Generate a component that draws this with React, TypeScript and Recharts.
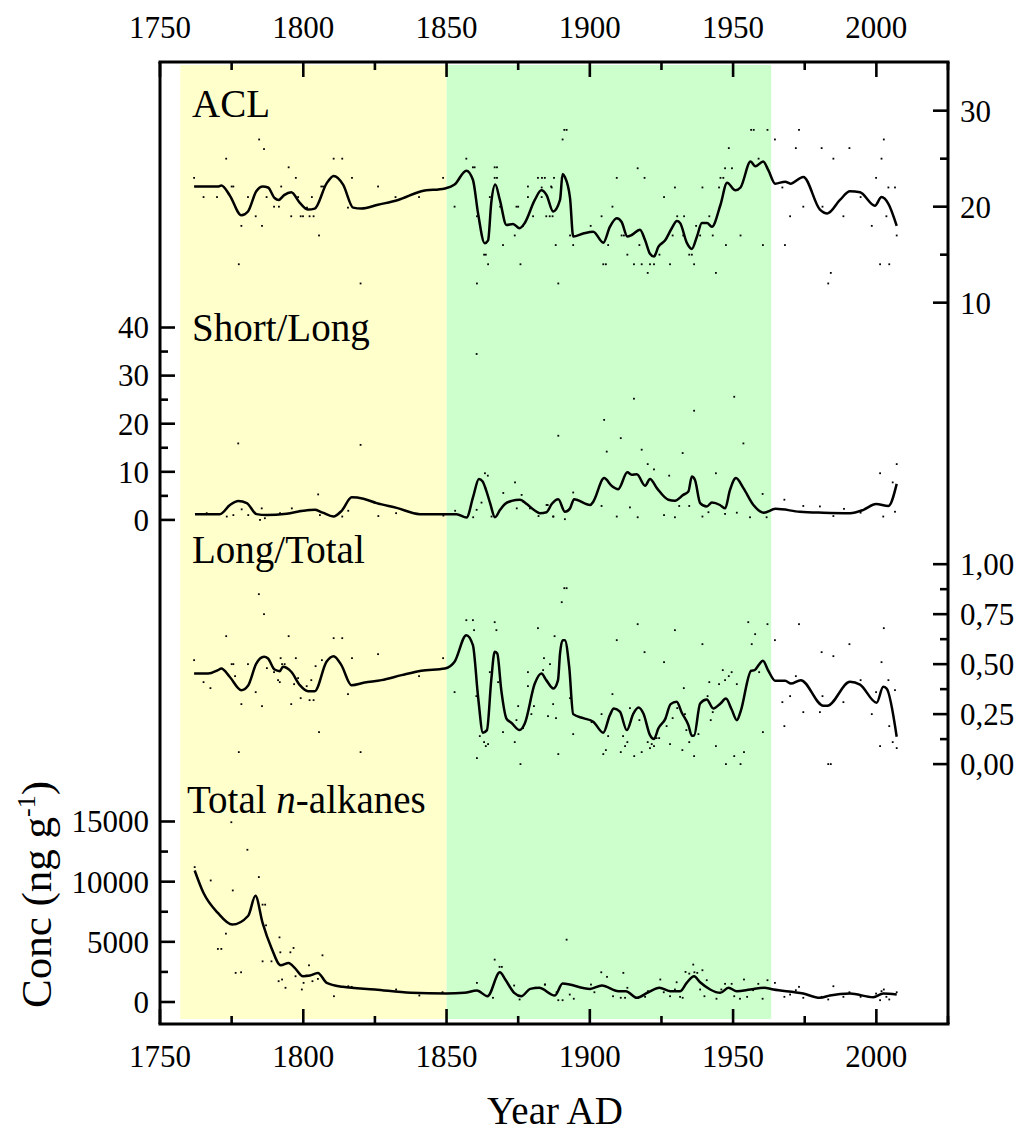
import {
  ComposedChart,
  Line,
  Scatter,
  XAxis,
  YAxis,
  ReferenceArea,
  ReferenceLine,
} from "recharts";

const FONT = '"Liberation Serif", "Times New Roman", Times, serif';

// shaded periods (year AD)
const yellowPeriod = [1757.1, 1850];
const greenPeriod = [1850, 1963.3];
const yearDomain = [1750, 2025];

// axis ticks (minor + major) and the labelled ones
const yearTicks = [1750, 1775, 1800, 1825, 1850, 1875, 1900, 1925, 1950, 1975, 2000, 2025];
const yearLabels = [1750, 1800, 1850, 1900, 1950, 2000];
const aclTicks = [10, 15, 20, 25, 30];
const aclLabels = [10, 20, 30];
const slTicks = [0, 5, 10, 15, 20, 25, 30, 35, 40];
const slLabels = [0, 10, 20, 30, 40];
const ltTicks = [0, 0.125, 0.25, 0.375, 0.5, 0.625, 0.75, 0.875, 1];
const ltLabels = [0, 0.25, 0.5, 0.75, 1];
const totTicks = [0, 2500, 5000, 7500, 10000, 12500, 15000];
const totLabels = [0, 5000, 10000, 15000];

// ACL — smoothed curve [year, value]
const aclLine = [
  [1761.9, 22.1], [1770.2, 22.1], [1771.4, 22.2], [1774.3, 21.2], [1778.4, 19.1], [1780.7, 19.5],
  [1783.6, 21.6], [1785.9, 22.1], [1787.7, 22.0], [1790.0, 20.9], [1791.4, 20.7], [1793.3, 21.2],
  [1795.8, 21.5], [1798.8, 20.4], [1801.7, 19.7], [1804.0, 19.8], [1808.1, 22.4], [1810.6, 23.2],
  [1813.9, 22.3], [1817.4, 19.9], [1820.3, 19.8], [1826.1, 20.2], [1833.1, 20.7], [1841.2, 21.6],
  [1849.4, 21.9], [1852.8, 22.3], [1856.9, 23.75], [1859.2, 22.8], [1861.0, 19.3], [1863.3, 16.2],
  [1864.5, 16.5], [1865.6, 20.4], [1867.0, 22.3], [1868.6, 20.7], [1870.9, 18.1], [1873.2, 18.2],
  [1875.5, 17.75], [1877.3, 18.3], [1880.8, 20.7], [1883.1, 21.7], [1884.9, 21.2], [1887.2, 19.5],
  [1889.6, 20.7], [1890.5, 23.4], [1891.3, 23.1], [1893.1, 20.9], [1894.2, 16.9], [1897.7, 17.2],
  [1901.2, 17.4], [1904.7, 16.25], [1907.0, 17.9], [1909.4, 18.8], [1911.1, 18.4], [1913.1, 16.9],
  [1914.6, 17.05], [1917.5, 17.6], [1919.3, 16.5], [1921.0, 15.1], [1922.4, 14.8], [1923.9, 15.8],
  [1926.3, 16.5], [1928.6, 17.75], [1930.4, 18.5], [1931.5, 18.3], [1933.9, 16.2], [1935.6, 15.6],
  [1937.4, 16.9], [1939.1, 18.3], [1940.9, 18.3], [1942.6, 17.9], [1945.6, 20.2], [1947.9, 22.5],
  [1950.8, 21.7], [1952.6, 22.0], [1956.1, 24.7], [1957.8, 24.2], [1960.5, 24.7], [1962.3, 23.8],
  [1964.7, 22.4], [1968.2, 22.6], [1970.0, 22.4], [1974.5, 23.1], [1980.3, 19.7], [1982.9, 19.3],
  [1987.3, 20.7], [1990.8, 21.6], [1994.3, 21.5], [1999.5, 20.1], [2001.8, 21.0], [2004.2, 20.3],
  [2007.1, 18.0],
];

// ACL — individual samples
const aclDots = [
  [1761.9, 23], [1765.2, 21], [1769.9, 21], [1773.1, 25], [1775.0, 22.1], [1775.6, 22.1], [1777.5, 14],
  [1778.4, 18], [1780.7, 21], [1783.4, 19], [1784.6, 27], [1785.6, 18], [1786.3, 26], [1787.2, 21],
  [1789.8, 20], [1791.5, 20], [1792.3, 22.1], [1794.9, 24.1], [1795.8, 19], [1797.4, 23], [1798.2, 21],
  [1799.1, 19], [1799.9, 19], [1801.3, 19.9], [1802.2, 19], [1803.6, 19], [1803.0, 21], [1805.5, 17],
  [1806.3, 22.1], [1806.9, 22.1], [1810.6, 25], [1813.6, 25], [1815.6, 19.9], [1817.0, 23], [1820.0, 12],
  [1826.1, 22.1], [1832.2, 21], [1840.4, 21], [1848.8, 23], [1852.8, 20], [1856.9, 25], [1859.2, 24.1],
  [1859.8, 24.1], [1860.6, 19], [1860.6, 12], [1863.1, 15], [1863.7, 15], [1864.5, 14], [1865.1, 21],
  [1866.8, 24.1], [1867.6, 24.1], [1866.8, 23], [1867.6, 23], [1868.7, 20], [1869.7, 16], [1873.8, 17],
  [1874.4, 20], [1875.0, 20], [1875.8, 14], [1876.7, 18], [1878.4, 22.1], [1878.4, 21], [1880.2, 19],
  [1881.9, 23], [1883.3, 23], [1884.3, 23], [1884.8, 19], [1886.0, 19], [1886.5, 22.1], [1888.1, 16],
  [1883.2, 22], [1886.7, 22], [1887.5, 23], [1883.2, 21], [1887.0, 19], [1889.0, 12], [1890.5, 27],
  [1891.1, 28], [1891.9, 28], [1890.2, 23], [1893.1, 17], [1894.2, 16], [1900.3, 18], [1904.1, 19],
  [1904.7, 14], [1905.6, 14], [1906.4, 16], [1907.9, 20], [1909.4, 23], [1911.1, 17], [1911.9, 17],
  [1913.1, 15], [1915.4, 14], [1916.7, 24], [1917.3, 16], [1918.1, 14], [1919.1, 23], [1920.2, 13.1],
  [1921.0, 14], [1922.4, 14], [1922.7, 15], [1924.3, 15], [1925.9, 21], [1928.0, 14], [1928.9, 17],
  [1929.7, 22], [1930.5, 19], [1932.9, 19], [1932.6, 17], [1934.7, 15], [1935.6, 15], [1936.4, 14],
  [1937.1, 18], [1938.5, 17], [1939.3, 22], [1941.7, 19], [1942.9, 17], [1944.0, 13.1], [1945.1, 22],
  [1945.6, 23], [1946.6, 23], [1947.2, 24], [1949.6, 24], [1947.5, 16], [1948.5, 26.1], [1952.6, 17],
  [1956.3, 28], [1957.2, 28], [1958.9, 25], [1960.4, 16], [1962.0, 28], [1964.6, 27], [1967.2, 22],
  [1968.1, 16], [1969.9, 19], [1971.9, 26.1], [1973.0, 28], [1974.5, 20], [1980.9, 26.1], [1981.2, 20],
  [1983.2, 12], [1984.1, 13.1], [1985.0, 25], [1988.5, 19], [1990.6, 26.1], [1994.5, 21], [1998.4, 18],
  [1999.9, 23], [2001.3, 14], [2004.5, 14], [2001.8, 25], [2002.6, 27], [2003.5, 19], [2004.2, 22],
  [2006.5, 22], [2007.1, 17],
];

// Short/Long ratio — smoothed curve
const slLine = [
  [1762.2, 1.2], [1770.9, 1.2], [1774.4, 3.1], [1777.3, 3.95], [1780.3, 3.5], [1783.7, 1.2],
  [1787.2, 1.0], [1794.2, 1.3], [1800.0, 1.9], [1804.1, 2.1], [1806.8, 1.5], [1810.5, 0.7],
  [1813.4, 1.9], [1816.9, 4.7], [1821.0, 4.4], [1825.6, 3.5], [1832.6, 2.5], [1840.7, 1.2],
  [1853.5, 1.2], [1857.0, 0.5], [1859.3, 4.85], [1861.3, 8.5], [1862.6, 8.0], [1863.8, 6.2],
  [1865.2, 3.5], [1866.9, 0.55], [1868.7, 2.1], [1870.4, 3.3], [1872.7, 3.95], [1875.6, 4.2],
  [1878.0, 3.3], [1880.9, 1.9], [1882.6, 1.4], [1884.9, 1.6], [1886.7, 3.3], [1889.0, 4.3],
  [1891.3, 1.7], [1893.1, 2.4], [1894.5, 4.3], [1900.1, 3.1], [1901.2, 3.8], [1905.0, 8.7],
  [1907.6, 7.1], [1909.9, 6.4], [1913.1, 9.9], [1914.6, 9.4], [1916.4, 9.5], [1919.3, 7.1],
  [1921.0, 8.5], [1923.4, 6.6], [1927.4, 4.2], [1929.7, 4.0], [1932.6, 5.2], [1934.4, 5.9],
  [1935.6, 9.0], [1936.7, 8.3], [1938.5, 3.5], [1940.8, 2.8], [1942.6, 3.6], [1945.4, 3.1],
  [1947.2, 2.4], [1948.9, 6.2], [1951.0, 8.7], [1953.6, 6.6], [1957.1, 3.1], [1960.7, 1.5],
  [1964.8, 2.3], [1973.3, 1.7], [1981.4, 1.5], [1990.8, 1.4], [1995.5, 2.1], [1999.9, 3.3],
  [2004.2, 2.9], [2007.1, 7.5],
];

const slDots = [
  [1777.3, 15.9], [1820.0, 15.6], [1805.2, 5.3], [1860.5, 34.5], [1873.9, 7.8], [1889.0, 17.5],
  [1863.4, 9.7], [1864.4, 9.2], [1869.8, 5.6], [1876.2, 5.2], [1766.3, 1.4], [1773.3, 0.7],
  [1775.6, 1.0], [1778.5, 2.2], [1780.8, 1.0], [1784.9, 0.0], [1786.6, 0.35], [1785.5, 2.4],
  [1791.9, 1.4], [1796.0, 2.4], [1798.9, 1.9], [1801.8, 2.1], [1805.8, 1.0], [1815.7, 1.9],
  [1813.6, 0.7], [1826.2, 0.8], [1832.4, 1.4], [1848.9, 0.9], [1853.0, 1.9], [1859.3, 0.55],
  [1860.5, 2.1], [1862.2, 3.6], [1865.7, 0.7], [1874.5, 2.4], [1876.8, 3.8], [1879.1, 2.4],
  [1882.1, 0.8], [1885.3, 3.1], [1887.3, 0.7], [1894.2, 5.7], [1905.0, 20.8], [1905.9, 14.2],
  [1910.8, 17.0], [1915.4, 25.2], [1918.1, 14.6], [1920.2, 11.6], [1922.4, 10.5], [1927.7, 9.2],
  [1932.4, 13.9], [1936.4, 22.7], [1944.0, 9.7], [1950.4, 25.6], [1953.6, 15.9], [1960.3, 5.4],
  [1967.9, 4.2], [1974.5, 2.9], [1980.3, 2.8], [1988.7, 2.3], [2001.3, 9.7], [2005.7, 7.8],
  [2007.1, 11.6], [2006.5, 1.7], [2002.4, 0.7], [1884.9, 3.1], [1887.2, 0.7], [1891.3, 0.15],
  [1904.1, 2.9], [1909.4, 0.7], [1914.0, 2.6], [1916.7, 0.55], [1925.9, 1.0], [1929.7, 0.55],
  [1931.2, 2.9], [1934.7, 2.9], [1939.3, 0.7], [1941.4, 1.6], [1947.2, 1.25], [1951.3, 1.5],
  [1955.9, 0.55], [1961.7, 0.55], [1985.0, 0.8], [1994.5, 1.5],
];

// Long/Total ratio — smoothed curve
const ltLine = [
  [1761.9, 0.453], [1766.8, 0.453], [1770.2, 0.47], [1771.4, 0.478], [1774.3, 0.437], [1778.4, 0.37],
  [1780.7, 0.392], [1783.6, 0.503], [1786.3, 0.537], [1787.7, 0.528], [1790.0, 0.473], [1791.8, 0.465],
  [1792.9, 0.487], [1795.8, 0.462], [1798.8, 0.395], [1801.7, 0.365], [1804.0, 0.365], [1808.1, 0.512],
  [1810.6, 0.54], [1813.3, 0.495], [1816.8, 0.395], [1821.4, 0.408], [1827.3, 0.42], [1834.3, 0.445],
  [1841.2, 0.467], [1849.4, 0.478], [1852.8, 0.512], [1856.9, 0.645], [1859.2, 0.595], [1861.0, 0.337],
  [1862.7, 0.157], [1864.1, 0.17], [1865.6, 0.42], [1866.8, 0.562], [1867.7, 0.553], [1869.1, 0.37],
  [1870.9, 0.228], [1872.6, 0.207], [1875.5, 0.17], [1877.3, 0.203], [1880.8, 0.403], [1883.1, 0.453],
  [1884.8, 0.42], [1887.3, 0.378], [1888.9, 0.42], [1889.6, 0.553], [1890.5, 0.62], [1891.3, 0.62],
  [1892.8, 0.487], [1894.2, 0.25], [1897.7, 0.23], [1901.2, 0.212], [1904.7, 0.157], [1907.0, 0.245],
  [1908.4, 0.278], [1910.5, 0.262], [1912.9, 0.17], [1915.2, 0.253], [1917.0, 0.283], [1918.7, 0.253],
  [1921.0, 0.145], [1922.4, 0.125], [1923.9, 0.178], [1926.3, 0.225], [1928.2, 0.3], [1930.3, 0.312],
  [1932.1, 0.257], [1934.4, 0.195], [1935.6, 0.142], [1936.4, 0.143], [1938.5, 0.303], [1940.8, 0.323],
  [1943.1, 0.278], [1945.6, 0.303], [1947.5, 0.328], [1949.5, 0.273], [1951.3, 0.22], [1952.6, 0.262],
  [1956.3, 0.467], [1957.5, 0.47], [1958.9, 0.495], [1960.4, 0.517], [1962.3, 0.467], [1964.7, 0.417],
  [1968.2, 0.417], [1970.2, 0.403], [1973.6, 0.42], [1981.5, 0.292], [1982.9, 0.292], [1990.8, 0.412],
  [1994.3, 0.398], [2000.1, 0.307], [2002.4, 0.387], [2003.6, 0.378], [2007.1, 0.137],
];

const ltDots = [
  [1784.5, 0.85], [1786.3, 0.75], [1773.1, 0.64], [1761.9, 0.52], [1765.2, 0.41], [1767.6, 0.38],
  [1775.0, 0.5], [1775.6, 0.5], [1776.2, 0.44], [1778.4, 0.3], [1777.5, 0.06], [1780.7, 0.5],
  [1783.4, 0.36], [1785.6, 0.29], [1787.3, 0.48], [1789.8, 0.46], [1791.2, 0.42], [1792.1, 0.53],
  [1792.6, 0.5], [1793.5, 0.5], [1791.8, 0.41], [1794.9, 0.64], [1795.8, 0.3], [1796.8, 0.4],
  [1797.4, 0.53], [1798.2, 0.43], [1799.1, 0.33], [1801.2, 0.39], [1802.2, 0.32], [1803.6, 0.32],
  [1802.8, 0.42], [1804.3, 0.49], [1805.5, 0.16], [1806.5, 0.52], [1810.6, 0.63], [1813.6, 0.63],
  [1815.6, 0.35], [1817.0, 0.53], [1820.0, 0.06], [1826.1, 0.55], [1840.4, 0.44], [1848.8, 0.53],
  [1852.8, 0.36], [1856.9, 0.72], [1859.2, 0.72], [1859.6, 0.67], [1860.6, 0.03], [1860.4, 0.34],
  [1861.6, 0.14], [1863.1, 0.11], [1863.7, 0.09], [1864.5, 0.1], [1866.8, 0.71], [1867.4, 0.67],
  [1865.1, 0.46], [1868.0, 0.41], [1869.7, 0.16], [1873.8, 0.11], [1874.4, 0.22], [1875.0, 0.29],
  [1875.8, 0.0], [1876.7, 0.18], [1878.4, 0.46], [1878.4, 0.39], [1879.6, 0.25], [1880.5, 0.29],
  [1881.9, 0.68], [1884.0, 0.53], [1883.7, 0.47], [1885.4, 0.24], [1887.7, 0.64], [1887.2, 0.3],
  [1890.2, 0.81], [1891.1, 0.88], [1891.9, 0.88], [1886.1, 0.5], [1888.2, 0.23], [1889.0, 0.05],
  [1893.1, 0.33], [1894.2, 0.15], [1900.6, 0.21], [1904.1, 0.25], [1904.7, 0.05], [1905.6, 0.07],
  [1906.4, 0.14], [1907.9, 0.35], [1909.4, 0.62], [1910.8, 0.06], [1911.6, 0.14], [1913.1, 0.11],
  [1912.3, 0.09], [1914.0, 0.28], [1915.5, 0.04], [1916.7, 0.7], [1917.3, 0.22], [1918.1, 0.06],
  [1919.1, 0.56], [1920.2, 0.11], [1921.0, 0.08], [1921.6, 0.1], [1922.4, 0.09], [1923.3, 0.13],
  [1924.2, 0.13], [1925.9, 0.51], [1926.8, 0.19], [1928.0, 0.1], [1928.9, 0.23], [1929.7, 0.67],
  [1930.5, 0.28], [1932.3, 0.07], [1932.8, 0.38], [1933.2, 0.25], [1933.7, 0.17], [1934.7, 0.11],
  [1936.4, 0.04], [1937.9, 0.15], [1939.3, 0.6], [1941.1, 0.34], [1941.7, 0.41], [1942.2, 0.22],
  [1942.9, 0.26], [1944.0, 0.09], [1945.1, 0.4], [1946.4, 0.47], [1947.2, 0.42], [1947.5, 0.0],
  [1948.5, 0.44], [1949.5, 0.46], [1950.4, 0.04], [1951.3, 0.4], [1952.6, 0.0], [1953.8, 0.06],
  [1955.3, 0.71], [1956.5, 0.6], [1957.7, 0.65], [1959.1, 0.46], [1960.4, 0.16], [1962.0, 0.7],
  [1964.6, 0.62], [1967.2, 0.31], [1967.9, 0.19], [1969.9, 0.34], [1971.9, 0.44], [1973.0, 0.7],
  [1974.5, 0.26], [1980.3, 0.26], [1980.9, 0.56], [1981.2, 0.34], [1983.2, 0.0], [1984.1, 0.0],
  [1985.0, 0.54], [1988.5, 0.31], [1990.6, 0.6], [1994.5, 0.42], [1998.4, 0.25], [1999.9, 0.36],
  [2001.3, 0.09], [2001.8, 0.51], [2002.6, 0.68], [2004.2, 0.42], [2004.5, 0.19], [2005.7, 0.11],
  [2006.5, 0.37], [2007.1, 0.08],
];

// Total n-alkanes (ng/g) — smoothed curve
const totLine = [
  [1762.1, 10930], [1765.2, 9055], [1770.2, 7400], [1775.2, 6430], [1780.8, 7170], [1783.3, 8830],
  [1785.8, 6570], [1788.9, 4490], [1792.1, 3050], [1794.9, 3250], [1797.0, 2840], [1799.9, 2140],
  [1802.3, 2200], [1805.1, 2420], [1808.2, 1590], [1813.8, 1260], [1825.0, 1040], [1837.5, 760],
  [1849.9, 700], [1856.2, 760], [1860.6, 950], [1864.3, 480], [1868.6, 2470], [1870.5, 1870],
  [1873.6, 760], [1876.1, 480], [1879.2, 1090], [1882.3, 1180], [1887.8, 540], [1890.5, 1530],
  [1900.1, 1090], [1904.2, 1370], [1910.0, 900], [1912.6, 900], [1916.4, 350], [1920.4, 810],
  [1924.3, 1180], [1928.0, 900], [1931.5, 900], [1933.8, 1590], [1936.4, 2140], [1938.5, 1640],
  [1942.0, 1040], [1945.5, 760], [1948.4, 1180], [1951.3, 900], [1956.0, 1040], [1960.8, 1180],
  [1964.1, 1040], [1974.5, 700], [1980.3, 350], [1983.8, 540], [1990.8, 700], [1998.9, 400],
  [2002.4, 700], [2007.1, 620],
];

const totDots = [
  [1762.1, 11210], [1767.7, 10100], [1774.9, 14940], [1775.4, 9270], [1773.0, 5680], [1770.2, 4410],
  [1771.4, 4410], [1776.4, 2420], [1778.3, 2470], [1780.5, 12650], [1784.5, 10380], [1785.8, 8090],
  [1786.7, 8090], [1787.0, 6370], [1788.9, 3380], [1785.8, 3380], [1791.7, 5370], [1792.0, 4130],
  [1795.5, 4130], [1796.6, 4490], [1791.4, 1730], [1792.6, 1870], [1793.8, 1180], [1797.3, 2140],
  [1799.5, 1040], [1800.1, 1590], [1802.0, 3050], [1801.1, 2200], [1803.2, 1730], [1805.1, 1920],
  [1806.7, 3880], [1810.7, 480], [1815.7, 1310], [1816.9, 1260], [1832.4, 1040], [1840.5, 540],
  [1848.6, 810], [1860.6, 1590], [1866.8, 3520], [1868.5, 2920], [1869.3, 2920], [1866.2, 350],
  [1873.6, 1370], [1875.5, 210], [1881.2, 1180], [1884.3, 1450], [1891.9, 5180], [1884.4, 1450],
  [1888.4, 810], [1889.0, 150], [1890.5, 150], [1893.0, 620], [1894.4, 270], [1900.4, 1450],
  [1901.6, 810], [1904.0, 2470], [1906.0, 2090], [1908.1, 480], [1910.8, 350], [1912.3, 350],
  [1911.7, 2420], [1913.1, 1180], [1917.3, 430], [1919.3, 430], [1920.3, 900], [1924.6, 1870],
  [1925.8, 810], [1928.0, 480], [1929.7, 1040], [1930.3, 1640], [1931.5, 430], [1932.4, 350],
  [1933.4, 2500], [1934.7, 2360], [1936.1, 3110], [1936.5, 2470], [1937.5, 2420], [1939.3, 2640],
  [1938.5, 1040], [1940.8, 1810], [1940.0, 480], [1944.2, 270], [1945.9, 1040], [1947.2, 1510],
  [1949.5, 1510], [1950.4, 480], [1952.4, 270], [1953.8, 1870], [1954.9, 430], [1957.0, 980],
  [1958.8, 1510], [1960.3, 270], [1962.0, 1810], [1964.6, 1590], [1967.9, 430], [1969.9, 620],
  [1971.9, 980], [1973.0, 1260], [1974.5, 350], [1980.9, 430], [1983.2, 210], [1985.0, 1310],
  [1988.5, 430], [1990.6, 810], [1994.5, 430], [1999.9, 700], [2001.3, 150], [2001.8, 900],
  [2002.6, 1040], [2003.5, 430], [2004.5, 210], [2007.1, 810],
];

const toRows = (pairs: number[][]) => pairs.map(([year, v]) => ({ year, v }));

type Side = "left" | "right" | "top" | "bottom";

// inward-pointing ticks: long ones carry a label, short ones are minor.
// `shift` moves a stacked (second) y axis back onto the plot edge.
function axisTick(side: Side, labels: number[], fmt: (v: number) => string = String, shift = 0) {
  return (props: any) => {
    const { payload } = props;
    const x = props.x + shift;
    const y = props.y;
    const v = payload.value as number;
    const major = labels.some((m) => Math.abs(m - v) < 1e-6);
    const len = major ? 15 : 8;
    let line: number[];
    let tx = x;
    let ty = y;
    let anchor: "start" | "middle" | "end" = "middle";
    if (side === "left") {
      line = [x, y, x + len, y];
      tx = x - 11;
      anchor = "end";
    } else if (side === "right") {
      line = [x, y, x - len, y];
      tx = x + 12;
      anchor = "start";
    } else if (side === "top") {
      line = [x, y, x, y + len];
      ty = y - 35;
    } else {
      line = [x, y, x, y - len];
      ty = y + 32;
    }
    return (
      <g>
        <line x1={line[0]} y1={line[1]} x2={line[2]} y2={line[3]} stroke="#000" strokeWidth={2.6} />
        {major && (
          <text x={tx} y={ty} dy="0.35em" textAnchor={anchor} fontSize={31} fontFamily={FONT} fill="#000">
            {fmt(v)}
          </text>
        )}
      </g>
    );
  };
}

const dotShape = (p: any) => (
  <rect x={p.cx - 0.9} y={p.cy - 0.9} width={1.8} height={1.8} fill="#000" />
);

const frame = { stroke: "#000", strokeWidth: 3, strokeLinecap: "square" as const };
const AXIS_W = 60;

export default function App() {
  const lineProps = {
    xAxisId: "bottom",
    dataKey: "v",
    type: "monotone" as const,
    stroke: "#000",
    strokeWidth: 2.5,
    dot: false,
    activeDot: false,
    isAnimationActive: false,
  };
  const dotProps = {
    xAxisId: "bottom",
    dataKey: "v",
    shape: dotShape,
    isAnimationActive: false,
  };
  const yAxisCommon = {
    type: "number" as const,
    dataKey: "v",
    width: AXIS_W,
    interval: 0 as const,
    tickSize: 0,
    tickMargin: 0,
    tickLine: false,
    axisLine: false,
    allowDataOverflow: true,
  };
  const xAxisCommon = {
    type: "number" as const,
    dataKey: "year",
    domain: yearDomain,
    ticks: yearTicks,
    interval: 0 as const,
    height: 30,
    tickSize: 0,
    tickMargin: 0,
    tickLine: false,
    axisLine: frame,
    allowDataOverflow: true,
  };

  return (
    <div
      style={{
        position: "absolute",
        left: 0,
        top: 0,
        width: 1025,
        height: 1133,
        overflow: "hidden",
        background: "#fff",
      }}
    >
      <ComposedChart width={1068} height={1133} margin={{ top: 32, right: 0, bottom: 79, left: 40 }}>
        <XAxis {...xAxisCommon} xAxisId="bottom" tick={axisTick("bottom", yearLabels)} />
        <XAxis {...xAxisCommon} xAxisId="top" orientation="top" tick={axisTick("top", yearLabels)} />
        <YAxis
          yAxisId="band"
          hide
          width={0}
          orientation="right"
          type="number"
          domain={[0, 1]}
          allowDataOverflow
          padding={{ top: 3, bottom: 5 }}
        />
        <YAxis
          {...yAxisCommon}
          yAxisId="sl"
          orientation="left"
          domain={[-104.8, 95.2]}
          ticks={slTicks}
          tick={axisTick("left", slLabels)}
        />
        <YAxis
          {...yAxisCommon}
          yAxisId="tot"
          orientation="left"
          domain={[-1828, 78112]}
          ticks={totTicks}
          tick={axisTick("left", totLabels, String, AXIS_W)}
        />
        <YAxis
          {...yAxisCommon}
          yAxisId="acl"
          orientation="right"
          domain={[-65.14, 35.07]}
          ticks={aclTicks}
          tick={axisTick("right", aclLabels)}
        />
        <YAxis
          {...yAxisCommon}
          yAxisId="lt"
          orientation="right"
          domain={[-1.3, 3.512]}
          ticks={ltTicks}
          tick={axisTick("right", ltLabels, (v) => v.toFixed(2).replace(".", ","), -AXIS_W)}
        />

        <ReferenceArea
          xAxisId="bottom"
          yAxisId="band"
          x1={yellowPeriod[0]}
          x2={yellowPeriod[1]}
          y1={0}
          y2={1}
          ifOverflow="visible"
          fill="#ffffcc"
          fillOpacity={1}
          stroke="none"
        />
        <ReferenceArea
          xAxisId="bottom"
          yAxisId="band"
          x1={greenPeriod[0]}
          x2={greenPeriod[1]}
          y1={0}
          y2={1}
          ifOverflow="visible"
          fill="#ccffcc"
          fillOpacity={1}
          stroke="none"
        />

        {/* left and right sides of the frame */}
        <ReferenceLine xAxisId="bottom" yAxisId="sl" x={yearDomain[0]} ifOverflow="visible" stroke="#000" strokeWidth={3} />
        <ReferenceLine xAxisId="bottom" yAxisId="sl" x={yearDomain[1]} ifOverflow="visible" stroke="#000" strokeWidth={3} />

        <Scatter {...dotProps} yAxisId="acl" data={toRows(aclDots)} />
        <Line {...lineProps} yAxisId="acl" data={toRows(aclLine)} />
        <Scatter {...dotProps} yAxisId="sl" data={toRows(slDots)} />
        <Line {...lineProps} yAxisId="sl" data={toRows(slLine)} />
        <Scatter {...dotProps} yAxisId="lt" data={toRows(ltDots)} />
        <Line {...lineProps} yAxisId="lt" data={toRows(ltLine)} />
        <Scatter {...dotProps} yAxisId="tot" data={toRows(totDots)} />
        <Line {...lineProps} yAxisId="tot" data={toRows(totLine)} />
      </ComposedChart>

      <svg
        width={1025}
        height={1133}
        style={{ position: "absolute", left: 0, top: 0, pointerEvents: "none" }}
        fontFamily={FONT}
        fill="#000"
      >
        <text x={192} y={117} fontSize={39}>ACL</text>
        <text x={192} y={341} fontSize={39}>Short/Long</text>
        <text x={192} y={563} fontSize={39}>Long/Total</text>
        <text x={187} y={813} fontSize={39}>
          Total <tspan fontStyle="italic">n</tspan>-alkanes
        </text>
        <text x={555} y={1124} fontSize={39} textAnchor="middle">Year AD</text>
        <text transform="translate(51 1008) rotate(-90)" fontSize={43}>
          Conc (ng g<tspan dy={-16} fontSize={26}>-1</tspan>
          <tspan dy={16}>)</tspan>
        </text>
      </svg>
    </div>
  );
}
